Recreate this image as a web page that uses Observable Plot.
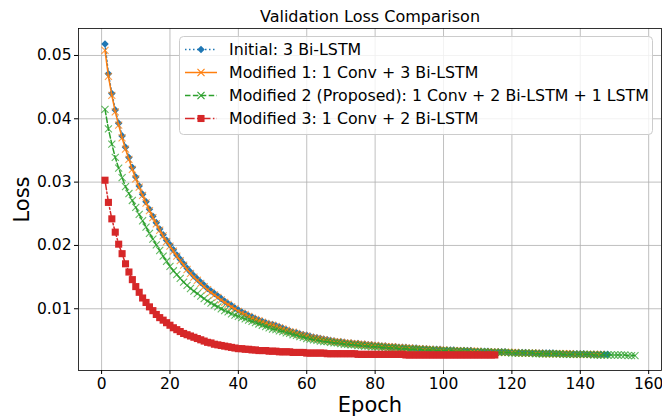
<!DOCTYPE html>
<html>
<head>
<meta charset="utf-8">
<script src="https://cdn.jsdelivr.net/npm/d3@7"></script>
<script src="https://cdn.jsdelivr.net/npm/@observablehq/plot@0.6"></script>
<style>
  html, body { margin: 0; padding: 0; background: #fff; }
  #chart { width: 662px; height: 418px; }
</style>
</head>
<body>
<div id="chart"></div>
<script>
// ---- Data (validation loss per epoch, epochs start at 1) ----
const initialLoss = [
  0.0518,0.0471,0.0440,0.0414,0.0393,0.0373,0.0355,0.0339,0.0323,0.0308,
  0.0294,0.0281,0.0269,0.0257,0.0246,0.0236,0.0226,0.0217,0.0208,0.0201,
  0.0193,0.0185,0.0178,0.0171,0.0164,0.0158,0.0152,0.0147,0.0142,0.0137,
  0.0132,0.0128,0.0124,0.0120,0.0116,0.0112,0.0108,0.0105,0.0101,0.0098,
  0.0095,0.0092,0.0089,0.0087,0.0084,0.0082,0.0080,0.0078,0.0076,0.0075,
  0.0073,0.0071,0.0069,0.0067,0.0065,0.0063,0.0062,0.0060,0.0059,0.0058,
  0.0056,0.0055,0.0054,0.0053,0.0052,0.0051,0.0050,0.0049,0.0048,0.0048,
  0.0047,0.0046,0.0046,0.0045,0.0045,0.0044,0.0044,0.0043,0.0043,0.0042,
  0.0042,0.0041,0.0041,0.0040,0.0040,0.0040,0.0039,0.0039,0.0039,0.0038,
  0.0038,0.0038,0.0037,0.0037,0.0037,0.0036,0.0036,0.0036,0.0036,0.0035,
  0.0035,0.0035,0.0035,0.0034,0.0034,0.0034,0.0034,0.0034,0.0033,0.0033,
  0.0033,0.0033,0.0033,0.0032,0.0032,0.0032,0.0032,0.0032,0.0031,0.0031,
  0.0031,0.0031,0.0031,0.0031,0.0030,0.0030,0.0030,0.0030,0.0030,0.0030,
  0.0030,0.0030,0.0029,0.0029,0.0029,0.0029,0.0029,0.0029,0.0029,0.0029,
  0.0029,0.0028,0.0028,0.0028,0.0028,0.0028,0.0028,0.0028
];
const modified1Loss = [
  0.0508,0.0467,0.0437,0.0411,0.0390,0.0370,0.0352,0.0336,0.0320,0.0305,
  0.0292,0.0279,0.0267,0.0255,0.0244,0.0234,0.0224,0.0215,0.0206,0.0199,
  0.0191,0.0183,0.0176,0.0169,0.0162,0.0156,0.0150,0.0145,0.0140,0.0135,
  0.0130,0.0126,0.0122,0.0118,0.0114,0.0110,0.0107,0.0103,0.0100,0.0096,
  0.0093,0.0091,0.0088,0.0085,0.0083,0.0081,0.0079,0.0077,0.0075,0.0074,
  0.0072,0.0070,0.0068,0.0066,0.0064,0.0063,0.0061,0.0059,0.0058,0.0057,
  0.0055,0.0054,0.0053,0.0052,0.0051,0.0050,0.0049,0.0048,0.0048,0.0047,
  0.0046,0.0046,0.0045,0.0045,0.0044,0.0044,0.0043,0.0043,0.0042,0.0042,
  0.0041,0.0041,0.0040,0.0040,0.0040,0.0039,0.0039,0.0038,0.0038,0.0038,
  0.0037,0.0037,0.0037,0.0036,0.0036,0.0036,0.0035,0.0035,0.0035,0.0035,
  0.0034,0.0034,0.0034,0.0034,0.0034,0.0033,0.0033,0.0033,0.0033,0.0033,
  0.0032,0.0032,0.0032,0.0032,0.0032,0.0031,0.0031,0.0031,0.0031,0.0031,
  0.0031,0.0030,0.0030,0.0030,0.0030,0.0030,0.0030,0.0030,0.0029,0.0029,
  0.0029,0.0029,0.0029,0.0029,0.0029,0.0029,0.0029,0.0028,0.0028,0.0028,
  0.0028,0.0028,0.0028,0.0028,0.0028,0.0028
];
const modified2Loss = [
  0.0415,0.0384,0.0360,0.0339,0.0322,0.0307,0.0293,0.0282,0.0271,0.0260,
  0.0249,0.0239,0.0229,0.0219,0.0210,0.0201,0.0192,0.0183,0.0175,0.0167,
  0.0160,0.0154,0.0148,0.0142,0.0137,0.0132,0.0128,0.0124,0.0120,0.0116,
  0.0112,0.0109,0.0106,0.0103,0.0100,0.0097,0.0095,0.0092,0.0090,0.0088,
  0.0086,0.0084,0.0082,0.0080,0.0078,0.0076,0.0074,0.0072,0.0070,0.0068,
  0.0067,0.0065,0.0064,0.0062,0.0061,0.0059,0.0058,0.0056,0.0055,0.0053,
  0.0052,0.0051,0.0050,0.0049,0.0048,0.0048,0.0047,0.0046,0.0046,0.0045,
  0.0044,0.0044,0.0043,0.0043,0.0042,0.0042,0.0041,0.0041,0.0040,0.0040,
  0.0040,0.0039,0.0039,0.0038,0.0038,0.0038,0.0037,0.0037,0.0037,0.0036,
  0.0036,0.0036,0.0036,0.0035,0.0035,0.0035,0.0035,0.0034,0.0034,0.0034,
  0.0034,0.0034,0.0033,0.0033,0.0033,0.0033,0.0033,0.0032,0.0032,0.0032,
  0.0032,0.0032,0.0032,0.0031,0.0031,0.0031,0.0031,0.0031,0.0031,0.0030,
  0.0030,0.0030,0.0030,0.0030,0.0030,0.0030,0.0029,0.0029,0.0029,0.0029,
  0.0029,0.0029,0.0029,0.0029,0.0028,0.0028,0.0028,0.0028,0.0028,0.0028,
  0.0028,0.0028,0.0028,0.0027,0.0027,0.0027,0.0027,0.0027,0.0027,0.0027,
  0.0027,0.0027,0.0027,0.0026,0.0026,0.0026
];
const modified3Loss = [
  0.0303,0.0268,0.0242,0.0221,0.0202,0.0187,0.0171,0.0158,0.0146,0.0135,
  0.0126,0.0117,0.0110,0.0103,0.0097,0.0091,0.0086,0.0082,0.0078,0.0074,
  0.0070,0.0067,0.0064,0.0061,0.0059,0.0057,0.0055,0.0053,0.0051,0.0049,
  0.0047,0.0046,0.0044,0.0043,0.0042,0.0041,0.0040,0.0039,0.0038,0.0037,
  0.0037,0.0036,0.0036,0.0035,0.0035,0.0034,0.0034,0.0034,0.0033,0.0033,
  0.0033,0.0032,0.0032,0.0032,0.0032,0.0031,0.0031,0.0031,0.0031,0.0030,
  0.0030,0.0030,0.0030,0.0030,0.0030,0.0029,0.0029,0.0029,0.0029,0.0029,
  0.0029,0.0029,0.0029,0.0029,0.0028,0.0028,0.0028,0.0028,0.0028,0.0028,
  0.0028,0.0028,0.0028,0.0028,0.0028,0.0028,0.0028,0.0028,0.0027,0.0027,
  0.0027,0.0027,0.0027,0.0027,0.0027,0.0027,0.0027,0.0027,0.0027,0.0027,
  0.0027,0.0027,0.0027,0.0027,0.0027,0.0027,0.0027,0.0027,0.0027,0.0027,
  0.0027,0.0027,0.0027,0.0027,0.0027
];

const seriesNames = [
  "Initial: 3 Bi-LSTM",
  "Modified 1: 1 Conv + 3 Bi-LSTM",
  "Modified 2 (Proposed): 1 Conv + 2 Bi-LSTM + 1 LSTM",
  "Modified 3: 1 Conv + 2 Bi-LSTM"
];
const xTicks = [0, 20, 40, 60, 80, 100, 120, 140, 160];
const yTicks = [0.01, 0.02, 0.03, 0.04, 0.05];
const titleText = "Validation Loss Comparison";
const xLabel = "Epoch";
const yLabel = "Loss";

// ---- Styling ----
const colors = ["#1f77b4", "#ff7f0e", "#2ca02c", "#d62728"];
const dashes = ["1.5,2.5", null, "5.5,2.4", "9.6,2.4,1.5,2.4"];
const symbols = ["diamond2", "times", "times", "square"];
const radii = [3.4, 3.3, 3.3, 4.0];
const FONT = "DejaVu Sans, Liberation Sans, sans-serif";

const allSeries = [initialLoss, modified1Loss, modified2Loss, modified3Loss];
const tables = allSeries.map((arr, k) =>
  arr.map((v, i) => ({ epoch: i + 1, loss: v, series: seriesNames[k] })));

const seriesMarks = [];
tables.forEach((rows, k) => {
  seriesMarks.push(Plot.line(rows, {
    x: "epoch", y: "loss", stroke: colors[k], strokeWidth: 1.5,
    strokeDasharray: dashes[k] || undefined
  }));
  const filled = symbols[k] !== "times";
  seriesMarks.push(Plot.dot(rows, {
    x: "epoch", y: "loss", symbol: symbols[k], r: radii[k],
    fill: filled ? colors[k] : "none",
    stroke: filled ? "none" : colors[k],
    strokeWidth: filled ? undefined : 1.1,
    strokeOpacity: filled ? undefined : 0.75
  }));
});

const plot = Plot.plot({
  width: 662,
  height: 418,
  marginLeft: 78,
  marginRight: 1,
  marginTop: 28,
  marginBottom: 48,
  style: { fontFamily: FONT, fontSize: "15.5px", color: "#000", background: "#fff" },
  x: { domain: [-6.75, 163.75], ticks: xTicks, tickSize: 4, tickPadding: 3, label: null },
  y: { domain: [0.00025, 0.05426], ticks: yTicks, tickSize: 4, tickPadding: 3,
       tickFormat: d => d.toFixed(2), label: null },
  marks: [
    Plot.ruleX(xTicks, { stroke: "#b0b0b0", strokeWidth: 0.8 }),
    Plot.ruleY(yTicks, { stroke: "#b0b0b0", strokeWidth: 0.8 }),
    ...seriesMarks,
    Plot.frame({ stroke: "#000", strokeWidth: 0.8 }),
    Plot.text([titleText], { frameAnchor: "top", dy: -12, lineAnchor: "middle", textAnchor: "middle", fontSize: 16, fill: "#000" }),
    Plot.text([xLabel], { frameAnchor: "bottom", dy: 35, lineAnchor: "middle", textAnchor: "middle", fontSize: 21, fill: "#000" }),
    Plot.text([yLabel], { frameAnchor: "left", dx: -56, rotate: -90, lineAnchor: "middle", textAnchor: "middle", fontSize: 21, fill: "#000" })
  ]
});

document.getElementById("chart").appendChild(plot);

// ---- Legend (drawn inside the SVG) ----
const svg = d3.select(plot);
const lg = svg.append("g").attr("font-family", FONT).attr("font-size", 15.8)
  .attr("text-anchor", "start");
lg.append("rect")
  .attr("x", 179.5).attr("y", 36.5).attr("width", 473).attr("height", 98)
  .attr("rx", 4).attr("fill", "#fff").attr("fill-opacity", 0.8)
  .attr("stroke", "#cccccc").attr("stroke-width", 1);
const rowY = [49.5, 72.5, 95.5, 118.5];
const symMap = { diamond2: d3.symbolDiamond2, times: d3.symbolTimes, square: d3.symbolSquare };
seriesNames.forEach((name, k) => {
  const y = rowY[k];
  const line = lg.append("line")
    .attr("x1", 185).attr("x2", 217).attr("y1", y).attr("y2", y)
    .attr("stroke", colors[k]).attr("stroke-width", 1.5);
  if (dashes[k]) line.attr("stroke-dasharray", dashes[k]);
  const size = Math.PI * radii[k] * radii[k];
  const filled = symbols[k] !== "times";
  lg.append("path")
    .attr("transform", `translate(201,${y})`)
    .attr("d", d3.symbol(symMap[symbols[k]], size)())
    .attr("fill", filled ? colors[k] : "none")
    .attr("stroke", filled ? "none" : colors[k])
    .attr("stroke-width", 1.1);
  lg.append("text")
    .attr("x", 229).attr("y", y).attr("dy", "0.35em")
    .attr("text-anchor", "start")
    .attr("fill", "#000").text(name);
});
</script>
</body>
</html>
